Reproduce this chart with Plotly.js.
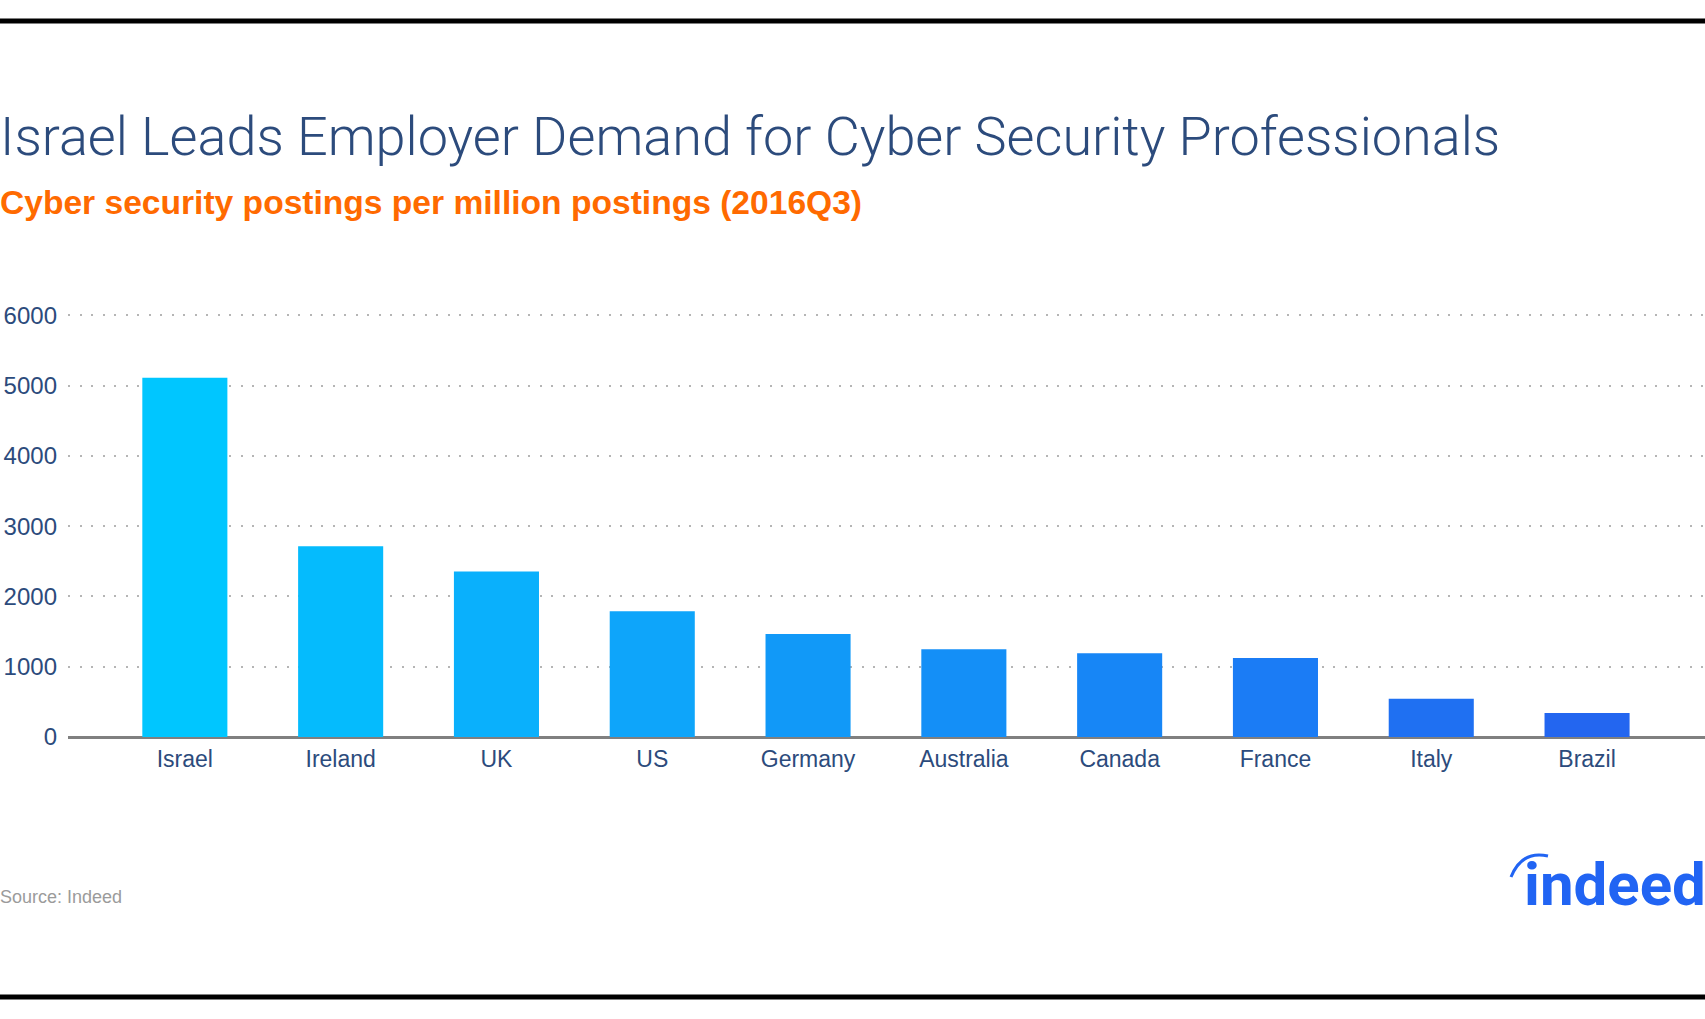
<!DOCTYPE html>
<html>
<head>
<meta charset="utf-8">
<script src="https://cdn.plot.ly/plotly-3.0.1.min.js"></script>
<style>
  html, body { margin: 0; padding: 0; background: #ffffff; }
  #chart { width: 1705px; height: 1019px; }
</style>
</head>
<body>
<div id="chart"></div>
<script>
// ---- data ----
const countries = ["Israel", "Ireland", "UK", "US", "Germany", "Australia", "Canada", "France", "Italy", "Brazil"];
const postingsPerMillion = [5110, 2715, 2355, 1790, 1465, 1248, 1190, 1123, 545, 341];
const yTickValues = [0, 1000, 2000, 3000, 4000, 5000, 6000];
const yTickLabels = ["0", "1000", "2000", "3000", "4000", "5000", "6000"];

const titleText = "Israel Leads Employer Demand for Cyber Security Professionals";
const subtitleText = "Cyber security postings per million postings (2016Q3)";
const sourceText = "Source: Indeed";

// ---- styles ----
const barColors = ["#00C6FF", "#05BBFD", "#0AB0FC", "#0EA5FA", "#1199F8", "#148FF7", "#1786F6", "#1B7CF5", "#1F70F2", "#2366F0"];
const W = 1705, H = 1019;
const M = {l: 68, r: 0, t: 311, b: 282};
const navy = "#2C4B7C";

// pixel -> paper helpers (for decorative shapes only)
const pw = W - M.l - M.r, ph = H - M.t - M.b;
const px = x => (x - M.l) / pw;
const py = y => (H - M.b - y) / ph;

const trace = {
  type: "bar",
  x: countries,
  y: postingsPerMillion,
  marker: {color: barColors, line: {width: 0}},
  hoverinfo: "x+y"
};

const layout = {
  width: W, height: H,
  margin: M,
  paper_bgcolor: "#ffffff",
  plot_bgcolor: "#ffffff",
  bargap: 0.454,
  showlegend: false,
  font: {family: "Liberation Sans, Arial, sans-serif", color: navy},
  title: {
    text: titleText,
    x: 0, xref: "container", xanchor: "left",
    y: 1 - 136 / H, yref: "container", yanchor: "middle",
    font: {family: "Roboto, sans-serif", weight: 300, size: 54, color: navy}
  },
  xaxis: {
    type: "category",
    range: [-0.75, 9.757],
    showgrid: false,
    showline: false,
    zeroline: false,
    ticks: "",
    tickfont: {size: 23, color: navy},
    ticklabelstandoff: 6,
    fixedrange: true
  },
  yaxis: {
    range: [0, 6060],
    tickvals: yTickValues,
    ticktext: yTickLabels,
    showgrid: true,
    gridcolor: "#B5B5B5",
    gridwidth: 2,
    griddash: "2px,9.5px",
    zeroline: true,
    zerolinecolor: "#808080",
    zerolinewidth: 3,
    showline: false,
    ticks: "",
    tickfont: {size: 24, color: navy},
    ticklabelstandoff: 10,
    fixedrange: true
  },
  annotations: [
    {
      text: subtitleText, showarrow: false,
      xref: "paper", yref: "paper", x: px(-2), y: py(202), xanchor: "left", yanchor: "middle",
      font: {family: "Liberation Sans, Arial, sans-serif", size: 33.6, weight: 700, color: "#FF6A00"}
    },
    {
      text: sourceText, showarrow: false,
      xref: "paper", yref: "paper", x: px(-2), y: py(897), xanchor: "left", yanchor: "middle",
      font: {family: "Liberation Sans, Arial, sans-serif", size: 18, color: "#9B9B9B"}
    },
    {
      text: "<b>indeed</b>", showarrow: false,
      xref: "paper", yref: "paper", x: px(1522), y: py(884), xanchor: "left", yanchor: "middle",
      font: {family: "Roboto, sans-serif", size: 60, color: "#2164F3"}
    }
  ],
  shapes: [
    {type: "line", xref: "paper", yref: "paper", x0: px(0), x1: px(W), y0: py(21), y1: py(21),
     line: {color: "#000000", width: 5}},
    {type: "line", xref: "paper", yref: "paper", x0: px(0), x1: px(W), y0: py(997), y1: py(997),
     line: {color: "#000000", width: 5}},
    {type: "path", xref: "paper", yref: "paper",
     path: "M " + px(1511) + " " + py(877) + " Q " + px(1522) + " " + py(850) + " " + px(1548) + " " + py(856),
     line: {color: "#2164F3", width: 3}}
  ]
};

Plotly.newPlot("chart", [trace], layout, {displayModeBar: false, staticPlot: true});
</script>
</body>
</html>
